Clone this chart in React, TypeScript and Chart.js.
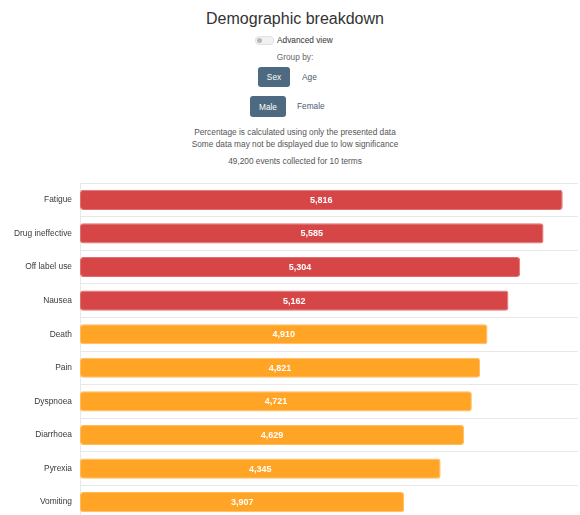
import React, { useEffect, useRef } from "react";
import { Chart, registerables } from "chart.js";

Chart.register(...registerables);

const categories = [
  "Fatigue",
  "Drug ineffective",
  "Off label use",
  "Nausea",
  "Death",
  "Pain",
  "Dyspnoea",
  "Diarrhoea",
  "Pyrexia",
  "Vomiting",
];
const values = [5816, 5585, 5304, 5162, 4910, 4821, 4721, 4629, 4345, 3907];
const axisMax = 6000;
const highThreshold = 5000;

const FONT = "'Liberation Sans', Arial, Helvetica, sans-serif";
const RED = "#d64646";
const RED_EDGE = "#e07070";
const ORANGE = "#ffa425";
const ORANGE_EDGE = "#ffbb5a";

const valueLabels = {
  id: "valueLabels",
  afterDatasetsDraw(chart: any) {
    const ctx = chart.ctx;
    const meta = chart.getDatasetMeta(0);
    ctx.save();
    ctx.fillStyle = "#ffffff";
    ctx.font = `bold 9px ${FONT}`;
    ctx.textAlign = "center";
    ctx.textBaseline = "middle";
    meta.data.forEach((bar: any, i: number) => {
      const v = chart.data.datasets[0].data[i] as number;
      const cx = (bar.x + bar.base) / 2;
      ctx.fillText(v.toLocaleString("en-US"), cx, bar.y + 0.5);
    });
    ctx.restore();
  },
};

function BarChart() {
  const ref = useRef<HTMLCanvasElement | null>(null);
  useEffect(() => {
    if (!ref.current) return;
    const chart = new Chart(ref.current, {
      type: "bar",
      data: {
        labels: categories,
        datasets: [
          {
            data: values,
            backgroundColor: (c: any) =>
              (c.raw as number) > highThreshold ? RED : ORANGE,
            borderColor: (c: any) =>
              (c.raw as number) > highThreshold ? RED_EDGE : ORANGE_EDGE,
            borderWidth: 1,
            borderSkipped: false,
            borderRadius: 3,
            barPercentage: 0.6,
            categoryPercentage: 1,
          },
        ],
      },
      options: {
        indexAxis: "y",
        animation: false,
        responsive: false,
        maintainAspectRatio: false,
        layout: { padding: { top: 5, bottom: 3, left: 0, right: 2 } },
        plugins: {
          legend: { display: false },
          tooltip: { enabled: false },
          title: { display: false },
        },
        scales: {
          x: {
            display: false,
            min: 0,
            max: axisMax,
          },
          y: {
            afterFit: (s: any) => {
              s.width = 80;
            },
            grid: {
              color: "#e8e8e8",
              drawTicks: false,
              offset: true,
            },
            border: { color: "#e8e8e8" },
            ticks: {
              color: "#3a3a3a",
              padding: 8,
              font: { family: FONT, size: 8.4 },
            },
          },
        },
      },
      plugins: [valueLabels],
    });
    return () => chart.destroy();
  }, []);
  return (
    <canvas
      ref={ref}
      width={580}
      height={362}
      style={{ position: "absolute", left: 0, top: 170, width: 580, height: 362 }}
    />
  );
}

const centerRow = (top: number, extra: React.CSSProperties = {}): React.CSSProperties => ({
  position: "absolute",
  left: 0,
  width: 590,
  top,
  textAlign: "center",
  fontSize: 8.3,
  lineHeight: "12px",
  color: "#555",
  ...extra,
});

export default function App() {
  useEffect(() => {
    document.body.style.margin = "0";
  }, []);
  const btnSel: React.CSSProperties = {
    position: "absolute",
    background: "#4d6a80",
    color: "#fff",
    borderRadius: 3,
    fontSize: 8.3,
    display: "flex",
    alignItems: "center",
    justifyContent: "center",
  };
  const btnText: React.CSSProperties = {
    position: "absolute",
    color: "#4a5d70",
    fontSize: 8.3,
    lineHeight: "12px",
  };
  return (
    <div
      style={{
        position: "relative",
        width: 580,
        height: 515,
        overflow: "hidden",
        fontFamily: FONT,
        background: "#fff",
      }}
    >
      <div style={centerRow(9, { fontSize: 16, lineHeight: "20px", color: "#333" })}>
        Demographic breakdown
      </div>
      <div
        style={{
          position: "absolute",
          left: 255,
          top: 36,
          width: 17,
          height: 7,
          borderRadius: 4,
          background: "#f1f1f1",
          border: "0.5px solid #e2e2e2",
        }}
      >
        <div
          style={{
            position: "absolute",
            left: 1,
            top: 1,
            width: 5,
            height: 5,
            borderRadius: 3,
            background: "#b8b8b8",
          }}
        />
      </div>
      <div style={{ ...btnText, left: 277, top: 34, color: "#333" }}>Advanced view</div>
      <div style={centerRow(51, { color: "#666" })}>Group by:</div>
      <div style={{ ...btnSel, left: 258, top: 67, width: 32, height: 20 }}>Sex</div>
      <div style={{ ...btnText, left: 302, top: 71 }}>Age</div>
      <div style={{ ...btnSel, left: 250, top: 96, width: 36, height: 21 }}>Male</div>
      <div style={{ ...btnText, left: 297, top: 100 }}>Female</div>
      <div style={centerRow(126)}>Percentage is calculated using only the presented data</div>
      <div style={centerRow(138)}>Some data may not be displayed due to low significance</div>
      <div style={centerRow(155)}>49,200 events collected for 10 terms</div>
      <BarChart />
    </div>
  );
}
